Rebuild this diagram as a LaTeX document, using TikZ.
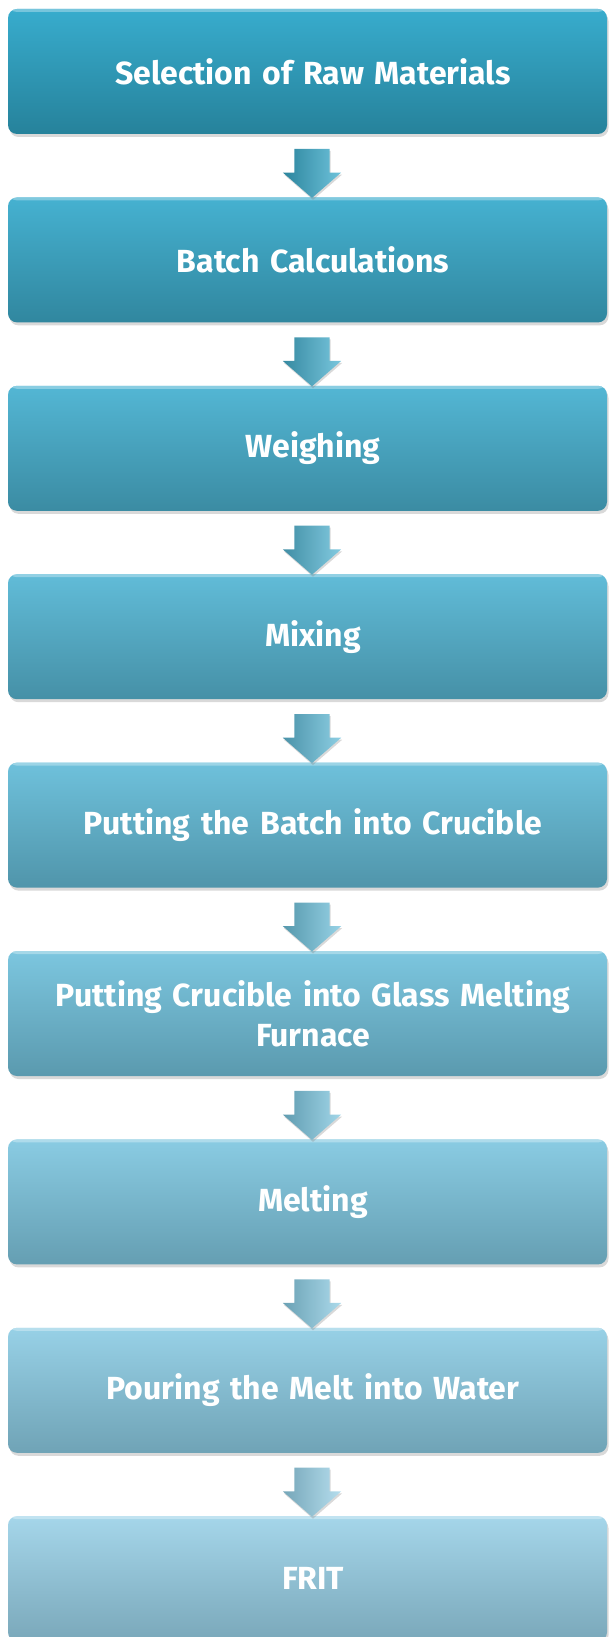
\documentclass[tikz,border=0pt]{standalone}
\usepackage{fontspec}
\setmainfont{Fira Sans}
\usetikzlibrary{shapes.arrows,shadows,calc}

\definecolor{firsttop}{RGB}{56,172,205}
\definecolor{firstbot}{RGB}{38,130,155}
\definecolor{lasttop}{RGB}{165,214,234}
\definecolor{lastbot}{RGB}{122,168,186}

\begin{document}
\begin{tikzpicture}[
    x=1pt, y=-1pt,
    stepbox/.style={rounded corners=9pt, minimum width=599pt, minimum height=125pt,
      inner sep=0pt, top color=boxtop, bottom color=boxbot,
      drop shadow={opacity=0.3, shadow xshift=1.5pt, shadow yshift=-3pt},
      path picture={\fill[boxtop!55!white, opacity=0.7]
        (path picture bounding box.north west) rectangle
        ([yshift=-3pt]path picture bounding box.north east);}},
    steptext/.style={text width=580pt, align=center, text=white, inner sep=0pt,
      font=\fontsize{32}{40}\selectfont\bfseries},
    flowarrow/.style={single arrow, shape border rotate=270,
      inner xsep=17.5pt, inner ysep=6pt,
      minimum height=49pt, minimum width=58pt, single arrow head extend=11.5pt,
      single arrow tip angle=98, left color=boxbot, right color=boxtop!75!white,
      drop shadow={opacity=0.3, shadow xshift=1pt, shadow yshift=-2pt}}
  ]
  \useasboundingbox (0,0) rectangle (609,1637);

  % process steps
  \foreach \txt [count=\i from 0] in {Selection of Raw Materials, Batch Calculations,
      Weighing, Mixing, Putting the Batch into Crucible,
      {Putting Crucible into Glass Melting\\Furnace}, Melting,
      Pouring the Melt into Water, FRIT} {
    \pgfmathsetmacro\p{100-12.5*\i}
    \colorlet{boxtop}{firsttop!\p!lasttop}
    \colorlet{boxbot}{firstbot!\p!lastbot}
    \node[stepbox] (step\i) at (307.5, 71.5+188.4*\i) {};
    \node[steptext] (text\i) at ($(step\i.center)+(5.5,0)$) {\txt};
  }

  % arrows between steps
  \foreach \i in {0,...,7} {
    \pgfmathtruncatemacro\j{\i+1}
    \pgfmathsetmacro\p{100-12.5*\i-6}
    \colorlet{boxtop}{firsttop!\p!lasttop}
    \colorlet{boxbot}{firstbot!\p!lastbot}
    \node[flowarrow] (arrow\i) at ($(step\i.south)!0.5!(step\j.north)+(4.5,0)$) {};
  }
\end{tikzpicture}
\end{document}
